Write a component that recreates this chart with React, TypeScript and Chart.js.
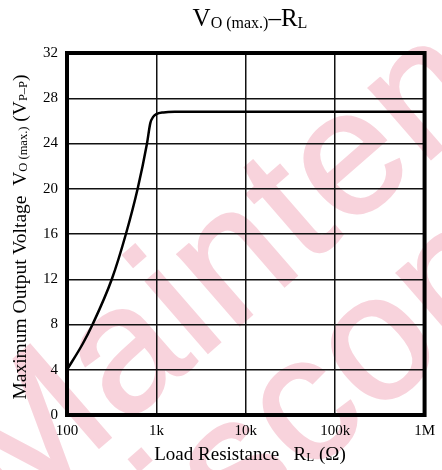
import React, { useEffect, useRef } from "react";
import { Chart, registerables } from "chart.js";

Chart.register(...registerables);

// ---- data ----
const RESISTANCE = [100, 150, 193, 317, 456, 617, 785, 855, 920, 1000, 1200, 1600, 3000, 10000, 100000, 1000000];
const VOLTAGE = [4, 6.3, 8, 12, 16, 20, 24, 25.8, 26.35, 26.6, 26.75, 26.8, 26.8, 26.8, 26.8, 26.8];
const X_TICKS = [100, 1000, 10000, 100000, 1000000];
const X_TICK_LABELS = ["100", "1k", "10k", "100k", "1M"];
const Y_MIN = 0;
const Y_MAX = 32;
const Y_STEP = 4;

const SERIF = "'Liberation Serif', 'Times New Roman', serif";

const framePlugin = {
  id: "frame",
  afterDatasetsDraw(chart: any) {
    const { ctx, chartArea } = chart;
    const { left, top, right, bottom } = chartArea;
    ctx.save();
    ctx.strokeStyle = "#000";
    ctx.lineWidth = 4;
    ctx.strokeRect(left, top, right - left, bottom - top);
    ctx.restore();
  },
};

export default function App() {
  const canvasRef = useRef<HTMLCanvasElement | null>(null);

  useEffect(() => {
    if (!canvasRef.current) return;
    const points = RESISTANCE.map((r, i) => ({ x: r, y: VOLTAGE[i] }));
    const chart = new Chart(canvasRef.current, {
      type: "line",
      data: {
        datasets: [
          {
            data: points,
            borderColor: "#000",
            borderWidth: 2.5,
            pointRadius: 0,
            fill: false,
            cubicInterpolationMode: "monotone",
          },
        ],
      },
      options: {
        animation: false,
        responsive: false,
        devicePixelRatio: 1,
        layout: { padding: { top: 53, right: 13, left: 0, bottom: 0 } },
        plugins: { legend: { display: false }, tooltip: { enabled: false }, title: { display: false } },
        scales: {
          x: {
            type: "logarithmic",
            min: 100,
            max: 1000000,
            afterBuildTicks: (s: any) => {
              s.ticks = X_TICKS.map((v) => ({ value: v }));
            },
            afterFit: (s: any) => {
              s.height = 55;
            },
            ticks: {
              autoSkip: false,
              maxRotation: 0,
              padding: 7,
              color: "#000",
              font: { family: SERIF, size: 15 },
              callback: (v: any) => {
                const i = X_TICKS.indexOf(Number(v));
                return i >= 0 ? X_TICK_LABELS[i] : "";
              },
            },
            grid: { color: "#111", lineWidth: 1.5, drawTicks: false },
            border: { display: false },
          },
          y: {
            min: Y_MIN,
            max: Y_MAX,
            afterFit: (s: any) => {
              s.width = 67;
            },
            ticks: {
              stepSize: Y_STEP,
              padding: 9,
              color: "#000",
              font: { family: SERIF, size: 15 },
            },
            grid: { color: "#111", lineWidth: 1.5, drawTicks: false },
            border: { display: false },
          },
        },
      },
      plugins: [framePlugin],
    });
    return () => chart.destroy();
  }, []);

  const wm: React.CSSProperties = {
    position: "absolute",
    transformOrigin: "0 0",
    transform: "rotate(-41deg)",
    whiteSpace: "nowrap",
    fontFamily: "'Liberation Sans', Arial, sans-serif",
    fontWeight: "normal",
    fontSize: 178,
    lineHeight: 1,
    letterSpacing: 2,
    color: "#f8d3dc",
    WebkitTextStroke: "2.5px #f8d3dc",
  };

  return (
    <div
      style={{
        position: "absolute",
        left: 0,
        top: 0,
        width: 442,
        height: 470,
        overflow: "hidden",
        background: "#fff",
      }}
    >
      <div style={{ ...wm, left: -89, top: 412 }}>Maintenance</div>
      <div style={{ ...wm, left: 8, top: 537 }}>Discontinued</div>
      <canvas
        ref={canvasRef}
        width={442}
        height={470}
        style={{ position: "absolute", left: 0, top: 0, width: 442, height: 470, display: "block" }}
      />
      <div
        style={{
          position: "absolute",
          left: 100,
          width: 300,
          top: 4,
          textAlign: "center",
          fontFamily: SERIF,
          fontSize: 25,
          lineHeight: "28px",
          color: "#000",
          whiteSpace: "nowrap",
        }}
      >
        V<span style={{ fontSize: 16, position: "relative", top: 2 }}>O (max.)</span>–R
        <span style={{ fontSize: 16, position: "relative", top: 2 }}>L</span>
      </div>
      <div
        style={{
          position: "absolute",
          left: 100,
          width: 300,
          top: 443,
          textAlign: "center",
          fontFamily: SERIF,
          fontSize: 19,
          lineHeight: "22px",
          color: "#000",
          whiteSpace: "nowrap",
        }}
      >
        Load Resistance&nbsp;&nbsp;&nbsp;R<span style={{ fontSize: 13, position: "relative", top: 1 }}>L</span> (Ω)
      </div>
      <div
        style={{
          position: "absolute",
          left: 20.3 - 200,
          top: 237 - 12,
          width: 400,
          height: 24,
          lineHeight: "24px",
          textAlign: "center",
          transform: "rotate(-90deg)",
          transformOrigin: "50% 50%",
          fontFamily: SERIF,
          fontSize: 19.5,
          color: "#000",
          whiteSpace: "nowrap",
        }}
      >
        Maximum Output Voltage&nbsp;&nbsp;V<span style={{ fontSize: 12.5, position: "relative", top: 1 }}>O (max.)</span> (V
        <span style={{ fontSize: 12.5, position: "relative", top: 1 }}>P–P</span>)
      </div>
    </div>
  );
}
